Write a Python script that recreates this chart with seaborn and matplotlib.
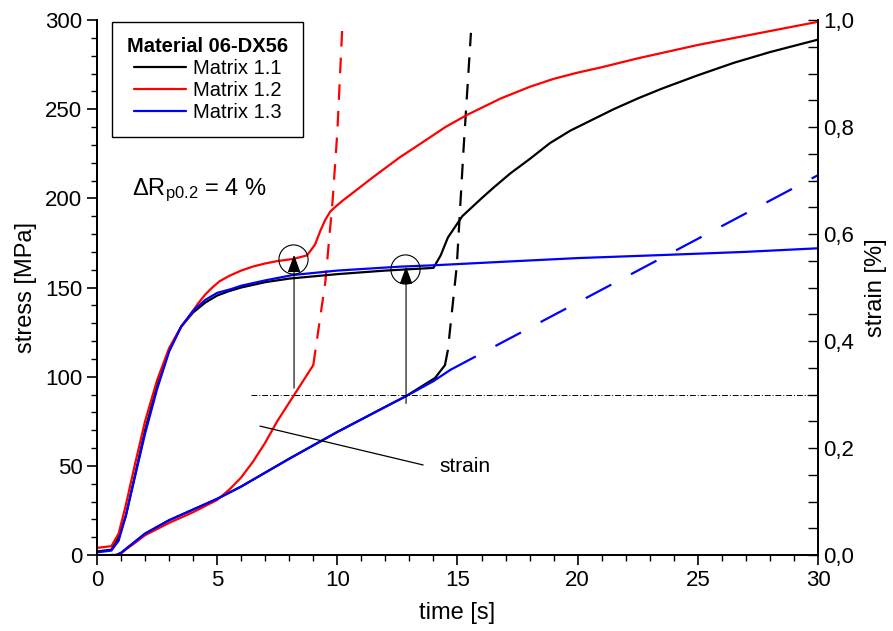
import numpy as np
import matplotlib
matplotlib.use("Agg")
import matplotlib.pyplot as plt
from matplotlib.ticker import MultipleLocator, FixedLocator
import seaborn as sns

# stress curves [MPa] (left axis)
t_black = [0, 0.6, 0.9, 1.2, 1.6, 2.0, 2.5, 3.0, 3.5, 4.0, 4.5, 5.0, 5.5, 6.0, 7.0, 8.0, 10, 12, 14.0,
           14.3, 14.6, 15.2, 16, 16.5, 17.2, 18, 18.85, 19.7, 20.6, 21.5, 22.5, 23.5, 25, 26.5, 28, 30]
s_black = [2, 3, 10, 22, 46, 70, 95, 115, 128, 136, 141.5, 145.5, 148, 150, 153, 155, 157.5, 159.5, 161,
           168, 178, 190, 200, 206, 214, 222, 231, 238, 244, 250, 256, 261.5, 269, 276, 282, 289]

t_red = [0, 0.6, 0.9, 1.2, 1.6, 2.0, 2.5, 3.0, 3.5, 3.9, 4.2, 4.5, 4.8, 5.1, 5.5, 6.0, 6.5, 7.0, 7.5,
         8.15, 8.74, 9.07, 9.3, 9.5, 9.7, 9.9, 10.2, 10.8, 11.5, 12.6, 13.5, 14.5, 15.4, 16.8, 18, 19,
         20, 21, 22.5, 25, 27.5, 30]
s_red = [4, 5, 12, 28, 52, 75, 98, 116, 128, 135, 141, 146, 150, 153.5, 156.5, 159.5, 161.8, 163.5, 164.8,
         166, 168, 174, 182, 188, 192.5, 195, 198.5, 204.7, 212, 223, 231, 240, 246.8, 256, 262.5, 267,
         270.5, 273.5, 278.5, 286, 292.5, 299]

t_blue = [0, 0.6, 0.9, 1.2, 1.6, 2.0, 2.5, 3.0, 3.5, 4.0, 4.5, 5.0, 5.55, 6, 7, 8.15, 10, 12.6,
          14.07, 17, 20, 23.7, 27, 30]
s_blue = [1.5, 2.5, 8, 22, 45, 68, 93, 114, 128, 137, 143, 147, 149, 151, 154, 157, 159.5, 161.7,
          162.5, 164.5, 166.5, 168.3, 170, 172]

# strain curves [%] (right axis), solid part then dashed part
te_blue = [0.6, 0.8, 1.0, 1.25, 1.5, 2, 3, 4, 5, 6, 8, 10, 12, 12.86, 14, 14.7]
e_blue = [0, 0.0, 0.004, 0.013, 0.022, 0.04, 0.065, 0.085, 0.105, 0.128, 0.18, 0.23, 0.277, 0.297, 0.325, 0.346]
te_blue_d = [14.7, 30]
e_blue_d = [0.346, 0.71]

te_red = [0.6, 0.8, 1.0, 1.25, 1.5, 2, 3, 4, 5, 5.5, 6, 6.5, 7, 7.5, 8, 8.5, 9.0]
e_red = [0, 0.0, 0.003, 0.012, 0.02, 0.037, 0.06, 0.08, 0.103, 0.122, 0.145, 0.175, 0.21, 0.25, 0.285, 0.32, 0.355]
te_red_d = [9.0, 9.5, 9.8, 10.0, 10.2]
e_red_d = [0.355, 0.51, 0.66, 0.79, 0.98]

te_black = [0.6, 0.8, 1.0, 1.25, 1.5, 2, 3, 4, 5, 6, 8, 10, 12, 12.86, 14.07, 14.48]
e_black = [0, 0.0, 0.004, 0.013, 0.022, 0.04, 0.065, 0.085, 0.105, 0.128, 0.18, 0.23, 0.277, 0.297, 0.331, 0.355]
te_black_d = [14.48, 14.6, 14.97, 15.25, 15.56]
e_black_d = [0.355, 0.383, 0.54, 0.757, 0.976]

strain_ticks = [0.0, 0.2, 0.4, 0.6, 0.8, 1.0]
strain_labels = ["0,0", "0,2", "0,4", "0,6", "0,8", "1,0"]

sns.set_style("ticks")
plt.rcParams["font.family"] = ["Liberation Sans", "DejaVu Sans"]
plt.rcParams["mathtext.fontset"] = "custom"
plt.rcParams["mathtext.rm"] = "Liberation Sans"
plt.rcParams["mathtext.it"] = "Liberation Sans"
plt.rcParams["mathtext.default"] = "regular"
for k in ("text.color", "axes.labelcolor", "xtick.color", "ytick.color", "axes.edgecolor"):
    plt.rcParams[k] = "black"

fig = plt.figure(figsize=(8.93, 6.31), dpi=100)
ax = fig.add_axes([0.1086, 0.1204, 0.8074, 0.8479])
ax2 = ax.twinx()

lw = 1.6
sns.lineplot(x=t_black, y=s_black, ax=ax, color="black", lw=lw, sort=False, estimator=None, label="Matrix 1.1")
sns.lineplot(x=t_red, y=s_red, ax=ax, color="red", lw=lw, sort=False, estimator=None, label="Matrix 1.2")
sns.lineplot(x=t_blue, y=s_blue, ax=ax, color="blue", lw=lw, sort=False, estimator=None, label="Matrix 1.3")

sns.lineplot(x=te_black, y=e_black, ax=ax2, color="black", lw=lw, sort=False, estimator=None)
sns.lineplot(x=te_red, y=e_red, ax=ax2, color="red", lw=lw, sort=False, estimator=None)
sns.lineplot(x=te_blue, y=e_blue, ax=ax2, color="blue", lw=lw, sort=False, estimator=None)
sns.lineplot(x=te_black_d, y=e_black_d, ax=ax2, color="black", lw=lw, sort=False, estimator=None)
sns.lineplot(x=te_red_d, y=e_red_d, ax=ax2, color="red", lw=lw, sort=False, estimator=None)
sns.lineplot(x=te_blue_d, y=e_blue_d, ax=ax2, color="blue", lw=lw, sort=False, estimator=None)
lines = ax2.get_lines()
lines[3].set_dashes((7, 5))
lines[4].set_dashes((7, 5))
lines[5].set_dashes((13, 10))

# 0.3 % strain level
ax2.plot([6.4, 30], [0.3, 0.3], color="black", lw=0.7, ls=(0, (6, 2, 1, 2)))

# arrows and circles marking Rp0.2
for xa, y0, y1, yc in [(8.2, 93.6, 168.3, 165.8), (12.86, 85, 161.7, 160.2)]:
    ax.annotate("", xy=(xa, y1), xytext=(xa, y0),
                arrowprops=dict(arrowstyle="-|>,head_length=0.6,head_width=0.22", color="black",
                                lw=0.8, mutation_scale=18, shrinkA=0, shrinkB=0))
    ax.plot([xa - 0.05], [yc], marker="o", ms=21, mfc="none", mec="black", mew=0.8)

ax.plot([6.78, 13.57], [72.3, 50.5], color="black", lw=0.9)
ax.text(14.23, 49.4, "strain", fontsize=15, va="center", ha="left")
ax.text(1.46, 202, r"$\Delta$R$_{p0.2}$ = 4 %", fontsize=17, va="baseline", ha="left")

ax.set_xlim(0, 30)
ax.set_ylim(0, 300)
ax2.set_ylim(0, 1)
ax.xaxis.set_major_locator(MultipleLocator(5))
ax.xaxis.set_minor_locator(MultipleLocator(1))
ax.yaxis.set_major_locator(MultipleLocator(50))
ax.yaxis.set_minor_locator(MultipleLocator(10))
ax2.yaxis.set_major_locator(FixedLocator(strain_ticks))
ax2.set_yticklabels(strain_labels)
ax2.yaxis.set_minor_locator(MultipleLocator(0.05))

ax.tick_params(which="major", direction="out", length=7, width=1.2, labelsize=16, colors="black")
ax.tick_params(which="minor", direction="out", length=4, width=1.0)
ax.tick_params(axis="y", right=False)
ax2.tick_params(which="both", direction="in", length=7, width=1.0, labelsize=16, colors="black")

for a in (ax, ax2):
    a.spines["top"].set_visible(False)
    for s in ("left", "bottom", "right"):
        a.spines[s].set_linewidth(1.3)
        a.spines[s].set_color("black")

ax.set_xlabel("time [s]", fontsize=17, labelpad=8)
ax.set_ylabel("stress [MPa]", fontsize=17, labelpad=6)
ax2.set_ylabel("strain [%]", fontsize=17, labelpad=8)

leg = ax.legend(loc="upper left", bbox_to_anchor=(0.021, 0.996), title="Material 06-DX56",
                fontsize=14.5, handlelength=2.6, handletextpad=0.35, fancybox=False,
                borderpad=0.75, labelspacing=0.15, borderaxespad=0)
leg.get_title().set_fontweight("bold")
leg.get_title().set_fontsize(14.5)
leg.get_title().set_color("black")
leg.get_frame().set_edgecolor("black")
leg.get_frame().set_linewidth(1.0)
leg.get_frame().set_alpha(1)
leg.set_zorder(10)
ax.set_zorder(ax2.get_zorder() + 1)
ax.patch.set_visible(False)
if ax2.get_legend() is not None:
    ax2.get_legend().remove()

fig.savefig("out.png", dpi=100)
